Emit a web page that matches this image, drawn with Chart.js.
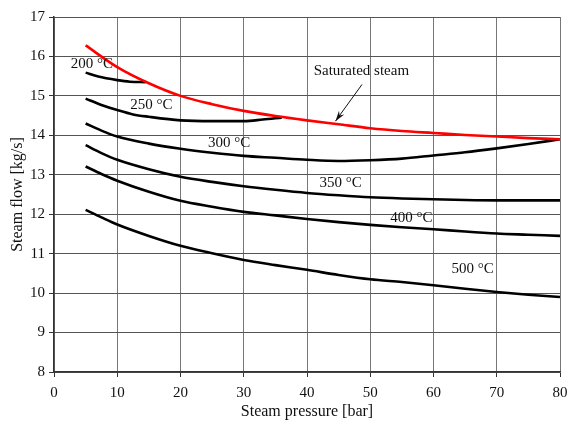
<!DOCTYPE html>
<html>
<head>
<meta charset="utf-8">
<script src="https://cdn.jsdelivr.net/npm/chart.js@4"></script>
<style>
  html, body { margin: 0; padding: 0; background: #fff; }
  #wrap { width: 571px; height: 423px; }
</style>
</head>
<body>
<div id="wrap"><canvas id="chart" width="571" height="423"></canvas></div>
<script>
// saturated steam line
const satPressure = [5, 10, 15, 20, 25, 30, 35, 40, 45, 50, 55, 60, 65, 70, 75, 80];
const satFlow = [16.28, 15.73, 15.32, 15.0, 14.79, 14.62, 14.49, 14.38, 14.28, 14.18, 14.11, 14.06, 14.01, 13.97, 13.93, 13.90];

// short curves that end on the saturation line
const p200 = [5, 7, 10, 12, 14.5];
const flow200 = [15.59, 15.49, 15.40, 15.36, 15.35];
const p250 = [5, 7.5, 10, 12.5, 15, 20, 25, 30, 33, 36];
const flow250 = [14.93, 14.77, 14.64, 14.53, 14.47, 14.38, 14.36, 14.36, 14.40, 14.45];

// full range curves
const pressure = [5, 7.5, 10, 15, 20, 25, 30, 35, 40, 45, 50, 55, 60, 65, 70, 75, 80];
const flow300 = [14.30, 14.12, 13.97, 13.79, 13.66, 13.56, 13.48, 13.43, 13.38, 13.35, 13.37, 13.41, 13.49, 13.57, 13.67, 13.78, 13.90];
const flow350 = [13.75, 13.55, 13.38, 13.14, 12.95, 12.82, 12.71, 12.62, 12.54, 12.48, 12.43, 12.40, 12.38, 12.36, 12.35, 12.35, 12.35];
const flow400 = [13.21, 13.02, 12.85, 12.57, 12.34, 12.19, 12.06, 11.97, 11.88, 11.80, 11.73, 11.67, 11.62, 11.56, 11.51, 11.48, 11.45];
const flow500 = [12.11, 11.92, 11.74, 11.45, 11.20, 11.01, 10.84, 10.71, 10.59, 10.46, 10.35, 10.28, 10.20, 10.11, 10.03, 9.96, 9.90];

// curve labels [text, pressure, flow]
const curveLabels = [
  ["200 °C", 6.0, 15.8],
  ["250 °C", 15.4, 14.76],
  ["300 °C", 27.7, 13.8],
  ["350 °C", 45.3, 12.8],
  ["400 °C", 56.5, 11.9],
  ["500 °C", 66.2, 10.6],
  ["Saturated steam", 48.6, 15.64]
];
const arrowFrom = [48.7, 15.29];
const arrowTo = [44.5, 14.36];

const FONT = "'Liberation Serif', 'Times New Roman', serif";

const toPoints = (xs, ys) => xs.map((x, i) => ({ x: x, y: ys[i] }));

const curve = (data, color) => ({
  data: data,
  borderColor: color,
  borderWidth: 2.6,
  pointRadius: 0,
  fill: false,
  tension: 0.3,
  cubicInterpolationMode: "monotone"
});

const labelPlugin = {
  id: "curveLabels",
  afterDatasetsDraw(chart) {
    const ctx = chart.ctx;
    const xs = chart.scales.x, ys = chart.scales.y;
    ctx.save();
    ctx.font = "15px " + FONT;
    ctx.fillStyle = "#111";
    ctx.textAlign = "center";
    ctx.textBaseline = "middle";
    curveLabels.forEach(([t, x, y]) => {
      ctx.fillText(t, xs.getPixelForValue(x), ys.getPixelForValue(y));
    });
    // arrow
    const x1 = xs.getPixelForValue(arrowFrom[0]), y1 = ys.getPixelForValue(arrowFrom[1]);
    const x2 = xs.getPixelForValue(arrowTo[0]), y2 = ys.getPixelForValue(arrowTo[1]);
    ctx.strokeStyle = "#111";
    ctx.lineWidth = 1;
    ctx.beginPath();
    ctx.moveTo(x1, y1);
    ctx.lineTo(x2, y2);
    ctx.stroke();
    const a = Math.atan2(y2 - y1, x2 - x1);
    ctx.beginPath();
    ctx.moveTo(x2, y2);
    ctx.lineTo(x2 - 11 * Math.cos(a - 0.3), y2 - 11 * Math.sin(a - 0.3));
    ctx.lineTo(x2 - 7 * Math.cos(a), y2 - 7 * Math.sin(a));
    ctx.lineTo(x2 - 11 * Math.cos(a + 0.3), y2 - 11 * Math.sin(a + 0.3));
    ctx.closePath();
    ctx.fill();
    ctx.restore();
  }
};

new Chart(document.getElementById("chart"), {
  type: "line",
  data: {
    datasets: [
      curve(toPoints(satPressure, satFlow), "#ff0000"),
      curve(toPoints(p200, flow200), "#000"),
      curve(toPoints(p250, flow250), "#000"),
      curve(toPoints(pressure, flow300), "#000"),
      curve(toPoints(pressure, flow350), "#000"),
      curve(toPoints(pressure, flow400), "#000"),
      curve(toPoints(pressure, flow500), "#000")
    ]
  },
  options: {
    responsive: false,
    animation: false,
    layout: { padding: { left: 0, right: 11, top: 17, bottom: 0 } },
    plugins: { legend: { display: false }, tooltip: { enabled: false } },
    scales: {
      x: {
        type: "linear",
        min: 0, max: 80,
        afterFit: (s) => { s.height = 51; s.paddingRight = 0; s.paddingLeft = 0; },
        ticks: { stepSize: 10, color: "#111", font: { family: FONT, size: 15 }, padding: 7 },
        grid: { color: "#777", lineWidth: 1, tickLength: 5, tickColor: "#333" },
        border: { color: "#333", width: 1.5 },
        title: { display: true, text: "Steam pressure [bar]", color: "#111", font: { family: FONT, size: 16 }, padding: { top: 0, bottom: 2 } }
      },
      y: {
        min: 8, max: 17,
        afterFit: (s) => { s.width = 54; s.paddingTop = 0; s.paddingBottom = 0; },
        ticks: { stepSize: 1, color: "#111", font: { family: FONT, size: 15 }, padding: 4 },
        grid: { color: "#555", lineWidth: 1, tickLength: 5, tickColor: "#333" },
        border: { color: "#333", width: 1.5 },
        title: { display: true, text: "Steam flow [kg/s]", color: "#111", font: { family: FONT, size: 16 }, padding: { top: 8, bottom: 0 } }
      }
    }
  },
  plugins: [labelPlugin]
});
</script>
</body>
</html>
